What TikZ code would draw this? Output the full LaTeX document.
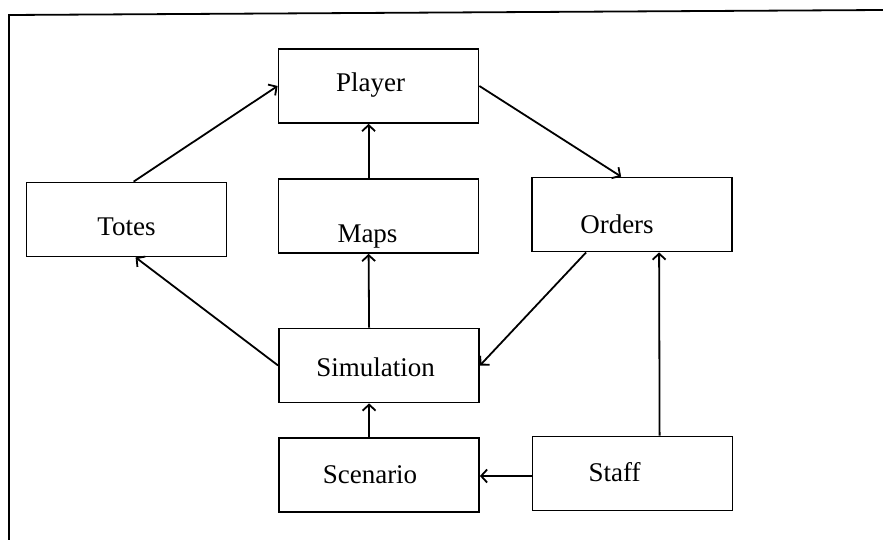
\documentclass[tikz,border=0pt]{standalone}
\usepackage{fontspec}
\setmainfont{Liberation Serif}
\usetikzlibrary{calc,arrows.meta,positioning}

\begin{document}
\begin{tikzpicture}[x=1pt,y=-1pt,line width=1.8pt,
 box/.style 2 args={draw,rectangle,minimum width=200pt,minimum height=74pt,inner sep=0pt,
  font=\fontsize{27}{32}\selectfont,execute at end node={\hspace*{#1}},
  text height=#2,text depth=0pt},
 flow/.style={-{Straight Barb[length=6pt,width=13pt]}}]
\useasboundingbox (0,0) rectangle (883,540);
\draw (9,540) -- (9,15) -- (883,10);
\node [box={16pt}{11pt}] (player) at (378.5,86) {Player};
\node [box={0pt}{31pt}] (totes) at (126.5,219.5) {Totes};
\node [box={22pt}{52pt}] (maps) at (378.5,216) {Maps};
\node [box={30pt}{38pt}] (orders) at (632,214.5) {Orders};
\node [box={7pt}{22pt}] (sim) at (379,365.5) {Simulation};
\node [box={18pt}{16pt}] (scen) at (379,475) {Scenario};
\node [box={36pt}{15pt}] (staff) at (632.5,473.5) {Staff};
\draw [flow] ($(totes.north west)+(108,0)$) -- (player.west);
\draw [flow] (player.east) -- ($(orders.north west)+(90,0)$);
\draw [flow] ($(maps.north west)+(91,0)$) -- ($(player.south west)+(91,0)$);
\draw [flow] ($(sim.north west)+(91,0)$) -- ($(maps.south west)+(91,0)$);
\draw [flow] ($(scen.north west)+(91,0)$) -- ($(sim.south west)+(91,0)$);
\draw [flow] ($(orders.south west)+(55,0)$) -- (sim.east);
\draw [flow] (sim.west) -- ($(totes.south west)+(110,0)$);
\draw [flow] (staff.west |- 0,476) -- (scen.east |- 0,476);
\draw [flow] ($(staff.north west)+(128,0)$) -- ($(orders.south west)+(128,0)$);
\end{tikzpicture}
\end{document}
